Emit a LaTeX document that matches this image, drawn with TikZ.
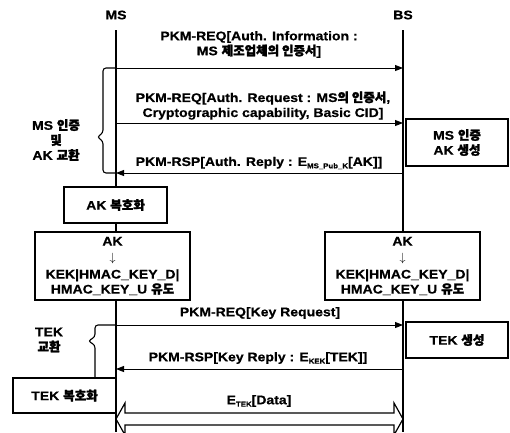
\documentclass[tikz,border=0pt]{standalone}
\usepackage{fontspec}
\setmainfont{Liberation Sans}[FakeStretch=1.12, BoldFeatures={FakeBold=0.6}]
\newfontfamily\kr{Noto Sans CJK KR}[FakeBold=2]
\usetikzlibrary{arrows.meta}
\newcommand\kor[1]{{\kr #1}}
\newcommand\sub[1]{\raisebox{-0.35ex}{\fontsize{7}{7}\selectfont #1}}
\begin{document}
\begin{tikzpicture}[x=1pt,y=-1pt,
  txt/.style={font=\fontsize{12.5}{15}\selectfont\bfseries, align=center, inner sep=0pt},
  box/.style={draw, line width=1.3pt, inner sep=0pt, font=\fontsize{12.5}{15}\selectfont\bfseries, align=center},
  msg/.style={line width=0.9pt, -{Triangle[length=8pt,width=6pt]}},
  life/.style={line width=1.2pt},
  brace/.style={line width=1.1pt, rounded corners=3pt}]
\useasboundingbox (0,0) rectangle (510,432);
\clip (0,0) rectangle (510,432);
\fill[white] (0,0) rectangle (510,432);

% headers
\node[txt] (ms) at (116,15) {MS};
\node[txt] (bs) at (403,15) {BS};

% boxes
\node[box, minimum width=102pt, minimum height=47pt] (bsauth) at (457,142.5) {MS \kor{인증}\\AK \kor{생성}};
\node[box, minimum width=103pt, minimum height=36pt] (akdec) at (115.5,205) {AK \kor{복호화}};
\node[box, minimum width=155pt, minimum height=68pt] (kekl) at (112.5,266) {AK\\[1pt]$\downarrow$\\[2pt]KEK|HMAC\_KEY\_D|\\HMAC\_KEY\_U \kor{유도}};
\node[box, minimum width=155pt, minimum height=68pt] (kekr) at (402.5,266) {AK\\[1pt]$\downarrow$\\[2pt]KEK|HMAC\_KEY\_D|\\HMAC\_KEY\_U \kor{유도}};
\node[box, minimum width=102pt, minimum height=36pt] (tekgen) at (457,340) {TEK \kor{생성}};
\node[box, minimum width=103pt, minimum height=35pt] (tekdec) at (64.5,395.5) {TEK \kor{복호화}};

% lifeline coordinates
\coordinate (m0) at (116,30);
\coordinate (m1) at (116,68);
\coordinate (m2) at (116,123);
\coordinate (m3) at (116,173);
\coordinate (m4) at (116,325);
\coordinate (m5) at (116,369);
\coordinate (mEnd) at (116,432);
\coordinate (b0) at (403,30);
\coordinate (b1) at (403,68);
\coordinate (b2) at (403,123);
\coordinate (b3) at (403,173);
\coordinate (b4) at (403,325);
\coordinate (b5) at (403,369);
\coordinate (bEnd) at (403,432);

% lifelines
\draw[life] (m0) -- (116,187);
\draw[life] (116,223) -- (116,232);
\draw[life] (116,300) -- (mEnd);
\draw[life] (b0) -- (403,232);
\draw[life] (403,300) -- (bEnd);

% messages
\draw[msg] (m1) -- (b1);
\node[txt] (l1) at (259,44.5) {PKM-REQ[Auth. Information :\\MS \kor{제조업체의 인증서}]};
\draw[msg] (m2) -- (b2);
\node[txt] (l2) at (263,105.5) {PKM-REQ[Auth. Request : MS\kor{의 인증서},\\Cryptographic capability, Basic CID]};
\draw[msg] (b3) -- (m3);
\node[txt] (l3) at (259,163) {PKM-RSP[Auth. Reply : E\sub{MS\_Pub\_K}[AK]]};
\draw[msg] (m4) -- (b4);
\node[txt] (l4) at (260,313) {PKM-REQ[Key Request]};
\draw[msg] (b5) -- (m5);
\node[txt] (l5) at (258,358) {PKM-RSP[Key Reply : E\sub{KEK}[TEK]]};

% braces
\draw[brace] (m1) -- (103,68) -- (103,133) -- (97,137) -- (103,141) -- (103,173) -- (m3);
\node[txt] (bl1) at (56,140) {MS \kor{인증}\\\kor{및}\\AK \kor{교환}};
\draw[brace] (m4) -- (95,325) -- (95,337) -- (88,341) -- (95,345) -- (tekdec.north -| 95,0);
\node[txt] (bl2) at (49,340) {TEK\\\kor{교환}};

% data double arrow
\draw[line width=1.2pt, line join=miter] (116,419) -- (125,403) -- (125,413) -- (394,413) -- (394,403) -- (403,419) -- (394,435) -- (394,425) -- (125,425) -- (125,435) -- cycle;
\node[txt] (l6) at (259,401) {E\sub{TEK}[Data]};
\end{tikzpicture}
\end{document}
